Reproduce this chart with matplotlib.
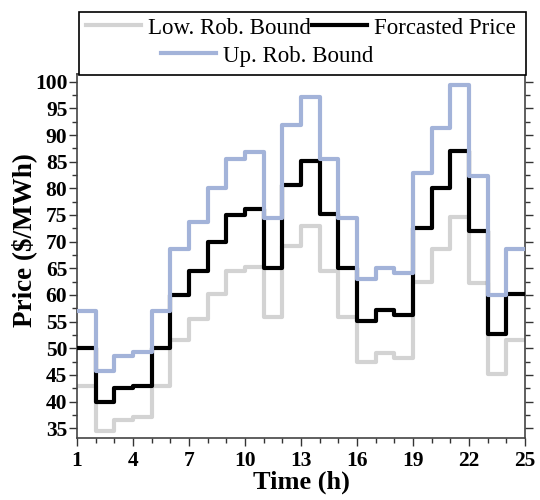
import numpy as np
import matplotlib
matplotlib.use('Agg')
import matplotlib.pyplot as plt
from matplotlib.lines import Line2D
from matplotlib.patches import Rectangle

# hourly prices ($/MWh), hour 1..24
hours = list(range(1, 26))
forecast = [50, 40, 42.6, 43, 50, 60, 64.5, 70, 75, 76.1, 65, 80.6,
            85.1, 75.1, 65, 55.2, 57.2, 56.3, 72.6, 80, 87, 72, 52.6, 60.1]
upper = [57, 45.8, 48.6, 49.2, 57, 68.6, 73.7, 80, 85.6, 86.9, 74.4, 91.9,
         97.1, 85.6, 74.4, 62.9, 65.1, 64.2, 82.8, 91.4, 99.4, 82.3, 60, 68.6]
lower = [43, 34.4, 36.6, 37.1, 43, 51.6, 55.4, 60.2, 64.4, 65.3, 55.9, 69.2,
         72.9, 64.4, 55.9, 47.5, 49.1, 48.1, 62.4, 68.6, 74.7, 62.3, 45.2, 51.6]
xticks = [1, 4, 7, 10, 13, 16, 19, 22, 25]
yticks = list(range(35, 101, 5))

c_low = '#d3d3d3'
c_fc = '#000000'
c_up = '#a3b3d9'

plt.rcParams['font.family'] = ['Liberation Serif', 'DejaVu Serif']

fig = plt.figure(figsize=(5.4, 5.0), dpi=100)
ax = fig.add_axes([77/540, 1-438.3/500, 448/540, (438.3-74.3)/500])

ax.step(hours, lower + [lower[-1]], where='post', color=c_low, lw=3, zorder=2)
ax.step(hours, forecast + [forecast[-1]], where='post', color=c_fc, lw=3, zorder=3)
ax.step(hours, upper + [upper[-1]], where='post', color=c_up, lw=3, zorder=4)

ax.set_xlim(1, 25)
ax.set_ylim(33.1, 101.4)
ax.set_xticks(xticks)
ax.set_xticks(range(1, 26), minor=True)
ax.set_yticks(yticks)
ax.set_yticks(np.arange(35, 101, 2.5), minor=True)
for lab in ax.get_xticklabels() + ax.get_yticklabels():
    lab.set_fontweight('bold')
    lab.set_fontsize(15.5)
ax.tick_params(which='both', direction='out', color='#333333', width=1,
               left=True, right=True, bottom=True, top=False)
ax.tick_params(which='major', length=6)
ax.tick_params(which='minor', length=3.5)
ax.tick_params(axis='x', which='major', pad=3)
ax.tick_params(axis='y', which='major', pad=1)
for s in ax.spines.values():
    s.set_color('#444444')
    s.set_linewidth(1.2)

ax.set_xlabel('Time (h)', fontsize=19, fontweight='bold', labelpad=0)
ax.set_ylabel('Price ($/MWh)', fontsize=19.5, fontweight='bold')
ax.yaxis.set_label_coords(-0.09, 0.545)

# legend box (two rows, second row centred like the original)
fig.patches.append(Rectangle((79/540, 1-75/500), 447/540, 63/500,
                             transform=fig.transFigure, fill=True,
                             facecolor='white', edgecolor='black', lw=1.2, zorder=5))
h_low = Line2D([], [], color=c_low, lw=3)
h_fc = Line2D([], [], color=c_fc, lw=3)
h_up = Line2D([], [], color=c_up, lw=3)
leg1 = fig.legend([h_low, h_fc], ['Low. Rob. Bound', 'Forcasted Price'], ncol=2,
                  loc='center', bbox_to_anchor=(301/540, 1-28/500), frameon=False,
                  fontsize=16.5, handlelength=2.4, handletextpad=0.3,
                  columnspacing=0.05, borderpad=0, borderaxespad=0)
leg2 = fig.legend([h_up], ['Up. Rob. Bound'], loc='center',
                  bbox_to_anchor=(267/540, 1-56/500), frameon=False,
                  fontsize=16.5, handlelength=2.4, handletextpad=0.3,
                  borderpad=0, borderaxespad=0)
leg1.set_zorder(6)
leg2.set_zorder(6)

plt.savefig('out.png', dpi=100)
